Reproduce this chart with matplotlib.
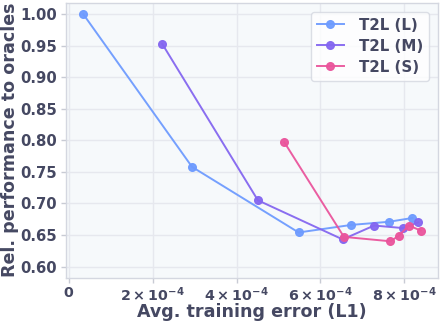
import matplotlib
matplotlib.use("Agg")
import matplotlib.pyplot as plt
from matplotlib.ticker import FuncFormatter

# Average training error (L1) and relative performance for each T2L size
err_L = [0.35e-4, 2.94e-4, 5.48e-4, 6.74e-4, 7.64e-4, 8.19e-4]
perf_L = [1.000, 0.758, 0.654, 0.666, 0.671, 0.677]

err_M = [2.23e-4, 4.51e-4, 6.53e-4, 7.28e-4, 7.96e-4, 8.33e-4]
perf_M = [0.953, 0.705, 0.643, 0.665, 0.661, 0.670]

err_S = [5.14e-4, 6.56e-4, 7.67e-4, 7.87e-4, 8.11e-4, 8.39e-4]
perf_S = [0.797, 0.647, 0.640, 0.649, 0.665, 0.657]

labels = ["T2L (L)", "T2L (M)", "T2L (S)"]
colors = ["#6e9bff", "#8466f0", "#ea559c"]

x_ticks = [0, 2e-4, 4e-4, 6e-4, 8e-4]
y_ticks = [0.60, 0.65, 0.70, 0.75, 0.80, 0.85, 0.90, 0.95, 1.00]

text_color = "#454862"
plt.rcParams["font.family"] = ["DejaVu Sans"]
plt.rcParams["font.weight"] = "bold"

fig = plt.figure(figsize=(4.41, 3.25), dpi=100)
ax = fig.add_axes([0.150, 0.145, 0.843, 0.847])
ax.set_facecolor("#f6f9fb")

for xs, ys, lab, c in zip([err_L, err_M, err_S], [perf_L, perf_M, perf_S], labels, colors):
    ax.plot(xs, ys, "-o", color=c, lw=1.4, ms=5.5, label=lab, alpha=0.95)

ax.set_xlim(-0.06e-4, 8.8e-4)
ax.set_ylim(0.582, 1.0185)
ax.set_xticks(x_ticks)
ax.set_yticks(y_ticks)


def fmt_x(v, pos):
    if v == 0:
        return "0"
    m = v / 1e-4
    return r"$\mathbf{%d\times10^{-4}}$" % round(m)


ax.xaxis.set_major_formatter(FuncFormatter(fmt_x))
ax.yaxis.set_major_formatter(FuncFormatter(lambda v, p: f"{v:.2f}"))

ax.grid(True, color="#e6e8ee", lw=1.0)
ax.set_axisbelow(True)
for s in ax.spines.values():
    s.set_color("#d4d7e0")
    s.set_linewidth(1.0)

ax.tick_params(axis="y", colors="#c8cbd4", labelcolor=text_color,
               labelsize=10.7, length=3.5, width=1, pad=3)
ax.tick_params(axis="x", colors="#c8cbd4", labelcolor=text_color,
               labelsize=10.3, length=3.5, width=1, pad=2)
for t in ax.get_xticklabels() + ax.get_yticklabels():
    t.set_fontweight("bold")

ax.set_xlabel("Avg. training error (L1)", fontsize=12.6, fontweight="bold",
              color=text_color)
ax.set_ylabel("Rel. performance to oracles", fontsize=12.6, fontweight="bold",
              color=text_color)
ax.xaxis.set_label_coords(0.5, -0.093)
ax.yaxis.set_label_coords(-0.128, 0.5)

leg = ax.legend(loc="upper right", frameon=True,
                prop={"weight": "bold", "size": 10.8},
                handlelength=1.8, handletextpad=1.0, borderpad=0.4,
                labelspacing=0.4, borderaxespad=0.6)
leg.get_frame().set_edgecolor("#d4d7e0")
leg.get_frame().set_facecolor("white")
for t in leg.get_texts():
    t.set_color(text_color)

fig.savefig("out.png", dpi=100)
